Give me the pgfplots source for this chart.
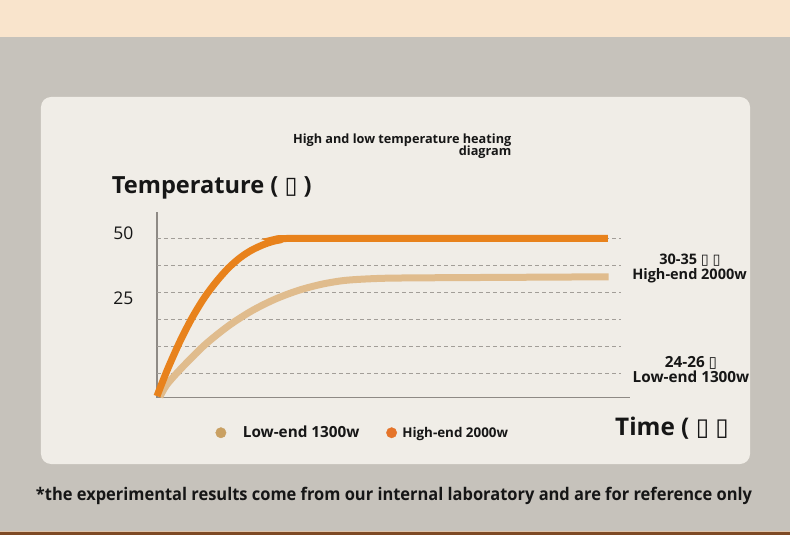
\documentclass[border=0pt]{standalone}
\usepackage{pgfplots}
\pgfplotsset{compat=1.18}
\usepackage{fontspec}
\setmainfont{Open Sans}
\newfontfamily\dv{DejaVu Sans}

\definecolor{peach}{HTML}{F9E4CC}
\definecolor{bggray}{HTML}{C6C2BB}
\definecolor{card}{HTML}{F0EDE7}
\definecolor{axisgray}{HTML}{8E8A85}
\definecolor{gridgray}{HTML}{A29E98}
\definecolor{highc}{HTML}{E8821C}
\definecolor{lowc}{HTML}{E0BC8D}
\definecolor{lowdot}{HTML}{C9A062}
\definecolor{highdot}{HTML}{E5742A}
\definecolor{txt}{HTML}{161616}
\definecolor{brownline}{HTML}{7E4A24}

\newcommand\tofu{{\dv\mdseries ▯}}
\newcommand\fs[1]{\fontsize{#1bp}{1.2\dimexpr#1bp\relax}\selectfont}

\begin{document}
\begin{tikzpicture}
% background, card, bands (origin = axis south west corner, 1bp = 1px)
\fill[bggray] (-157bp,-137.5bp) rectangle (633bp,397.5bp);
\fill[peach] (-157bp,360.5bp) rectangle (633bp,397.5bp);
\fill[card, rounded corners=10bp] (-116bp,-66.5bp) rectangle (593bp,300.5bp);
\fill[peach!80!brownline] (-157bp,-134.5bp) rectangle (633bp,-133.5bp);
\fill[brownline] (-157bp,-137.5bp) rectangle (633bp,-134.5bp);

\begin{axis}[
    scale only axis,
    width=473bp, height=185.5bp,
    xmin=0, xmax=100,
    ymin=1, ymax=70,
    clip=false,
    axis lines*=left,
    axis line style={draw=axisgray, line width=1.8bp},
    xtick=\empty,
    ytick={38.1,62},
    yticklabels={25,50},
    major tick length=0pt,
    yticklabel style={font=\fs{17.5}, text=txt, xshift=-20bp},
    legend columns=2,
    legend style={draw=none, fill=none, inner sep=0pt, outer sep=0pt,
        at={(0.1237,-0.19)}, anchor=west, font=\bfseries, text=txt,
        /tikz/every even column/.append style={column sep=24.7bp}},
]
% dashed guide lines
\pgfplotsinvokeforeach{10,20,30,40,50,60}{
    \draw[gridgray, line width=0.9bp, dash pattern=on 4bp off 3bp]
        (axis cs:0,#1) -- (axis cs:98.2,#1);
}

% low-end 1300w
\addplot[lowc, line width=7bp, smooth, tension=0.5, forget plot] coordinates {
    (0.6,1.2) (2,5.6) (5,11.6) (10,20.4) (15,27.5) (20,33.2) (25,37.6)
    (30,40.9) (35,43.2) (40,44.6) (47,45.3) (55,45.5) (75,45.7) (95.5,45.9)
};
% high-end 2000w
\addplot[highc, line width=7bp, smooth, tension=0.5, forget plot] coordinates {
    (0,1.5) (1,6.1) (2.5,12.6) (5,22.4) (7.5,30.9) (10,38.1) (12.5,44.0)
    (15,49.0) (17.5,52.9) (20,55.8) (23,58.2) (26,59.6) (31,60.2) (95.3,60.2)
};

\addlegendimage{legend image code/.code={\fill[lowdot] (5bp,0bp) circle (5.2bp); \path (24.8bp,0bp);}}
\addlegendentry{\fs{15.3}Low-end 1300w}
\addlegendimage{legend image code/.code={\fill[highdot] (5bp,0bp) circle (5.2bp); \path (13.5bp,0bp);}}
\addlegendentry{\fs{13.4}High-end 2000w}
\end{axis}

% titles and notes
\node[anchor=base east, inner sep=0, text=txt, font=\fs{12.7}\bfseries]
    at (354.5bp,254.2bp) {High and low temperature heating};
\node[anchor=base east, inner sep=0, text=txt, font=\fs{12.7}\bfseries]
    at (354.5bp,241.5bp) {diagram};
\node[anchor=base west, inner sep=0, text=txt, font=\fs{23.6}\bfseries]
    at (-45.3bp,203.5bp) {Temperature ( \tofu\ )};
\node[anchor=base west, inner sep=0, text=txt, font=\fs{24.3}\bfseries]
    at (458bp,-37.5bp) {Time ( \tofu\ \tofu};
\node[anchor=base, inner sep=0, text=txt, font=\fs{14.5}\bfseries]
    at (533bp,132.5bp) {30-35 \tofu\ \tofu};
\node[anchor=base, inner sep=0, text=txt, font=\fs{14.5}\bfseries]
    at (532.5bp,118.2bp) {High-end 2000w};
\node[anchor=base, inner sep=0, text=txt, font=\fs{15.3}\bfseries]
    at (534bp,30bp) {24-26 \tofu};
\node[anchor=base, inner sep=0, text=txt, font=\fs{15.3}\bfseries]
    at (534bp,14.8bp) {Low-end 1300w};
\node[anchor=base, inner sep=0, text=txt]
    at (237bp,-102.5bp) {\resizebox{716bp}{13.3bp}{\bfseries *the experimental results come from our internal laboratory and are for reference only}};

\pgfresetboundingbox
\path[use as bounding box] (-157bp,-137.5bp) rectangle (633bp,397.5bp);
\end{tikzpicture}
\end{document}
